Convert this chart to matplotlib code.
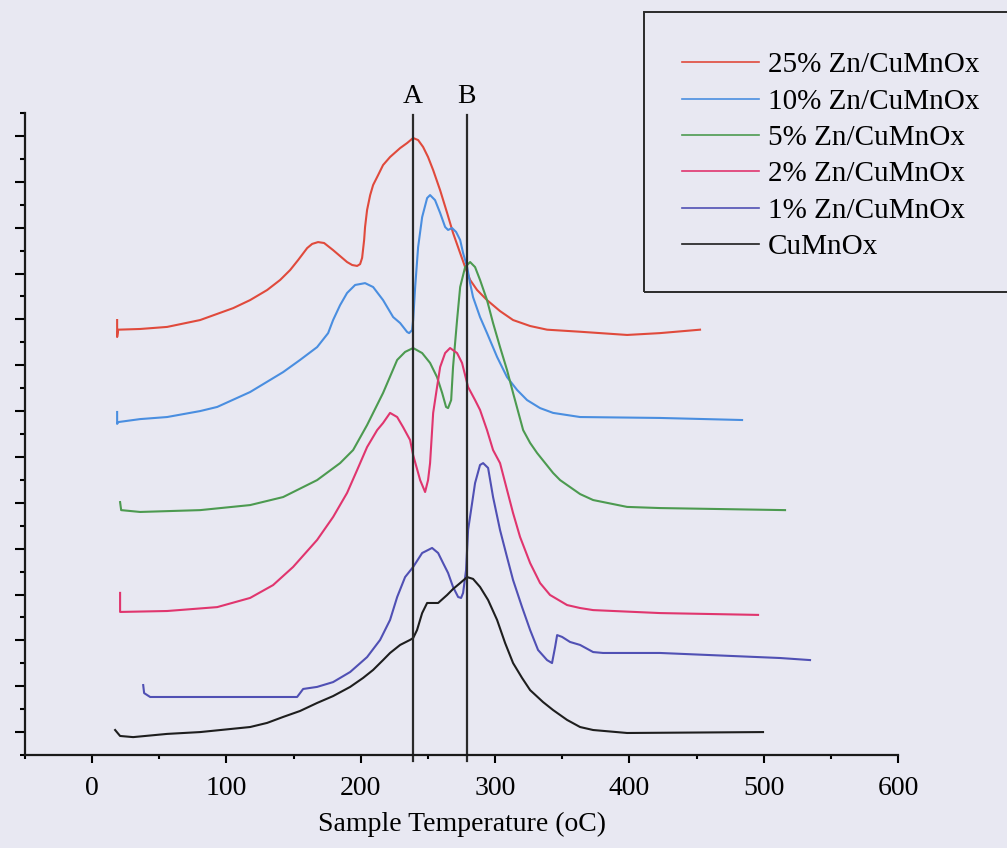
import numpy as np
import matplotlib
matplotlib.use("Agg")
import matplotlib.pyplot as plt
from matplotlib.lines import Line2D
from matplotlib.patches import Rectangle

# DATA (signal in arbitrary offset units)
t_25 = [18.6, 18.6, 19.4, 35.7, 55.8, 80.4, 105.0, 117.6, 130.3, 140.0, 147.4, 153.4, 160.1,
        163.8, 168.2, 172.7, 179.4, 184.6, 189.8, 193.6, 197.3, 199.5, 201.0,
        202.5, 203.2, 204.7, 207.0, 209.2, 212.9, 216.6, 221.8, 229.3, 234.5,
        239.0, 242.7, 246.4, 250.1, 253.9, 259.1, 264.3, 268.7, 274.0, 277.7,
        281.4, 286.6, 294.0, 303.7, 313.4, 326.1, 338.7, 363.3, 398.3, 422.8, 452.6]
s_25 = [18.97, 18.23, 18.55, 18.58, 18.67, 18.97, 19.49, 19.84, 20.28, 20.72, 21.15, 21.59, 22.11,
        22.29, 22.37, 22.33, 22.02, 21.76, 21.50, 21.37, 21.33, 21.41, 21.68,
        22.46, 23.03, 23.77, 24.42, 24.86, 25.29, 25.73, 26.08, 26.47, 26.69,
        26.91, 26.82, 26.52, 26.08, 25.51, 24.63, 23.64, 22.77, 21.89, 21.28,
        20.72, 20.28, 19.84, 19.36, 18.97, 18.71, 18.55, 18.46, 18.32, 18.40, 18.55]

t_10 = [18.6, 18.6, 19.4, 35.7, 55.8, 80.4, 93.1, 117.6, 142.2, 154.8, 167.5, 175.7, 179.4,
        184.6, 189.8, 195.8, 203.2, 209.2, 216.6, 224.1, 229.3, 234.5, 236.0, 238.2,
        239.0, 240.5, 242.7, 245.7, 249.4, 251.6, 255.3, 259.1, 262.8, 265.0, 268.0,
        271.0, 274.0, 276.2, 279.2, 281.4, 283.6, 288.8, 294.0, 301.5, 308.9, 316.4,
        323.8, 333.5, 343.2, 363.3, 422.8, 483.9]
s_10 = [14.96, 14.44, 14.52, 14.65, 14.74, 15.00, 15.18, 15.83, 16.70, 17.23, 17.79, 18.40, 18.97,
        19.62, 20.15, 20.50, 20.58, 20.41, 19.84, 19.10, 18.84, 18.45, 18.40, 18.53,
        18.97, 20.41, 22.15, 23.46, 24.29, 24.42, 24.20, 23.64, 23.03, 22.90, 22.98,
        22.81, 22.46, 21.89, 21.28, 20.58, 19.97, 19.10, 18.40, 17.36, 16.48, 15.92,
        15.48, 15.13, 14.92, 14.74, 14.70, 14.61]

t_5 = [20.8, 21.6, 35.7, 80.4, 117.6, 142.2, 167.5, 184.6, 194.3, 204.7, 216.6, 227.1,
       233.0, 239.0, 245.7, 251.6, 256.8, 260.6, 263.5, 265.0, 267.3, 268.7, 271.7,
       274.0, 277.7, 281.4, 285.1, 288.8, 294.0, 298.5, 303.7, 308.9, 313.4, 320.9,
       326.1, 331.3, 343.2, 348.4, 363.3, 373.0, 398.3, 422.8, 515.9]
s_5 = [11.03, 10.68, 10.60, 10.68, 10.90, 11.25, 11.99, 12.73, 13.30, 14.39, 15.79, 17.23,
       17.58, 17.75, 17.53, 17.10, 16.48, 15.79, 15.18, 15.13, 15.48, 16.92, 18.97,
       20.41, 21.28, 21.50, 21.28, 20.72, 19.84, 18.84, 17.79, 16.79, 15.79, 14.17,
       13.61, 13.17, 12.30, 11.99, 11.38, 11.12, 10.82, 10.77, 10.68]

t_2 = [20.8, 20.8, 21.6, 55.8, 93.1, 117.6, 134.7, 149.6, 167.5, 179.4, 189.8, 197.3,
       204.7, 212.2, 216.6, 221.8, 227.1, 231.5, 236.7, 239.0, 244.2, 247.9, 250.1,
       251.6, 253.9, 256.8, 259.1, 262.8, 266.5, 271.7, 275.4, 279.9, 285.1, 288.8,
       294.0, 298.5, 303.7, 308.9, 313.4, 318.6, 326.1, 333.5, 340.9, 353.6, 363.3,
       373.0, 422.8, 495.8]
s_2 = [7.07, 6.24, 6.24, 6.28, 6.45, 6.85, 7.41, 8.20, 9.38, 10.38, 11.43, 12.43,
       13.43, 14.17, 14.48, 14.92, 14.74, 14.30, 13.74, 13.08, 11.99, 11.47, 11.99,
       12.73, 14.92, 16.05, 16.92, 17.53, 17.75, 17.53, 17.10, 16.05, 15.48, 15.05,
       14.17, 13.30, 12.73, 11.56, 10.55, 9.51, 8.37, 7.50, 6.98, 6.54, 6.41,
       6.32, 6.19, 6.11]

t_1 = [38.0, 38.7, 43.2, 55.8, 105.0, 152.6, 154.8, 157.1, 167.5, 179.4, 192.1, 204.7,
       214.4, 221.8, 227.1, 233.0, 239.0, 245.7, 253.1, 257.6, 261.3, 265.0, 268.7,
       272.5, 274.7, 276.2, 278.4, 279.9, 282.9, 285.1, 288.8, 291.1, 294.8, 298.5,
       303.7, 308.9, 313.4, 320.1, 326.1, 332.0, 338.7, 342.4, 344.7, 346.2, 349.9,
       355.8, 363.3, 373.0, 380.4, 422.8, 512.2, 534.5]
s_1 = [3.05, 2.70, 2.53, 2.53, 2.53, 2.53, 2.70, 2.88, 2.97, 3.18, 3.62, 4.27,
       5.02, 5.89, 6.89, 7.76, 8.20, 8.81, 9.03, 8.81, 8.37, 7.94, 7.33,
       6.89, 6.85, 7.07, 8.07, 9.81, 10.99, 11.86, 12.65, 12.73, 12.52, 11.25,
       9.81, 8.63, 7.63, 6.45, 5.45, 4.58, 4.14, 4.01, 4.71, 5.23, 5.15,
       4.93, 4.80, 4.49, 4.45, 4.45, 4.23, 4.14]

t_0 = [17.1, 20.8, 30.5, 55.8, 80.4, 117.6, 130.3, 142.2, 154.8, 167.5, 179.4, 192.1,
       201.7, 209.2, 216.6, 221.8, 229.3, 236.7, 239.0, 241.9, 245.7, 249.4, 253.9,
       257.6, 264.3, 268.7, 274.0, 279.2, 283.6, 288.8, 294.8, 301.5, 307.5, 313.4,
       320.1, 326.1, 335.7, 343.2, 353.6, 363.3, 373.0, 398.3, 499.5]
s_0 = [1.09, 0.83, 0.78, 0.92, 1.00, 1.22, 1.40, 1.66, 1.92, 2.27, 2.57, 2.97,
       3.36, 3.71, 4.14, 4.45, 4.80, 5.02, 5.10, 5.45, 6.19, 6.63, 6.63,
       6.63, 6.98, 7.24, 7.50, 7.76, 7.68, 7.33, 6.76, 5.89, 4.88, 4.01,
       3.36, 2.83, 2.31, 1.96, 1.53, 1.22, 1.09, 0.96, 1.00]

peak_temps = [239, 279]
peak_names = ["A", "B"]

series = [
    (t_25, s_25, "25% Zn/CuMnOx", "#e04a3c"),
    (t_10, s_10, "10% Zn/CuMnOx", "#4a8ee0"),
    (t_5, s_5, "5% Zn/CuMnOx", "#4c9a50"),
    (t_2, s_2, "2% Zn/CuMnOx", "#e0356e"),
    (t_1, s_1, "1% Zn/CuMnOx", "#5050b4"),
    (t_0, s_0, "CuMnOx", "#1e1e1e"),
]

BG = "#e8e8f2"
plt.rcParams["font.family"] = ["Liberation Serif", "DejaVu Serif"]

fig = plt.figure(figsize=(10.07, 8.48), dpi=100, facecolor=BG)
ax = fig.add_axes([25 / 1007, 93 / 848, 873 / 1007, 642 / 848])
ax.set_facecolor(BG)

for t, s, name, col in series:
    ax.plot(t, s, color=col, lw=1.5, label=name)

# peak markers A and B
for tp, nm in zip(peak_temps, peak_names):
    ax.plot([tp, tp], [-0.25, 27.9], color="#2a2a2a", lw=1.6, clip_on=False)
    ax.text(tp, 28.74, nm, ha="center", va="center", fontsize=20)

ax.set_xlim(-50, 600)
ax.set_ylim(0, 28)
ax.set_xticks(range(0, 601, 100))
ax.set_xticks(range(-50, 600, 100), minor=True)
ax.set_yticks(np.arange(1, 28, 2))
ax.set_yticks(np.arange(0, 29, 2), minor=True)
ax.set_yticklabels([])
ax.tick_params(axis="x", which="major", length=6, width=1.5, labelsize=20, pad=8.8)
ax.tick_params(axis="x", which="minor", length=3, width=1.5)
ax.tick_params(axis="y", which="major", length=7, width=1.5)
ax.tick_params(axis="y", which="minor", length=3.5, width=1.5)
for sp in ["top", "right"]:
    ax.spines[sp].set_visible(False)
for sp in ["left", "bottom"]:
    ax.spines[sp].set_linewidth(1.6)
    ax.spines[sp].set_color("#1a1a1a")

ax.set_xlabel("Sample Temperature (oC)", fontsize=20, labelpad=8)

# legend box (right side runs off the page in the scan)
fig.patches.append(Rectangle((644 / 1007, 556 / 848), 0.4, 280 / 848,
                             transform=fig.transFigure, fill=False,
                             edgecolor="#2a2a2a", lw=1.4))
handles = [Line2D([], [], color=c, lw=1.2) for _, _, _, c in series]
labels = [n for _, _, n, _ in series]
fig.legend(handles, labels, loc="upper left", bbox_to_anchor=(682 / 1007, 1 - 52 / 848),
           frameon=False, fontsize=21, handlelength=2.64, handletextpad=0.3,
           labelspacing=0.34, borderpad=0, borderaxespad=0)

fig.savefig("out.png", dpi=100, facecolor=BG)
